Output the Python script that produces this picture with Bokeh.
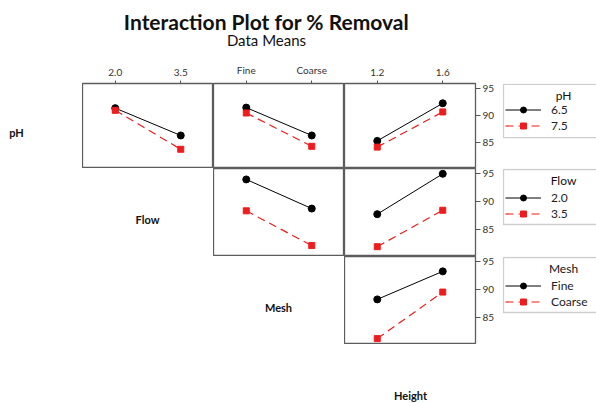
from bokeh.plotting import figure
from bokeh.layouts import column, row
from bokeh.models import (Range1d, FactorRange, FixedTicker, Legend, LegendItem, Label,
                          BoxAnnotation)
from bokeh.embed import file_html
from bokeh.resources import INLINE

FONT = "Lato"

title_text = "Interaction Plot for % Removal"
subtitle_text = "Data Means"

factor_names = ["pH", "Flow", "Mesh", "Height"]
ph_levels = ["6.5", "7.5"]
flow_levels = ["2.0", "3.5"]
mesh_levels = ["Fine", "Coarse"]
height_levels = ["1.2", "1.6"]
y_ticks = [85, 90, 95]

# Data means (first trace level = black solid, second = red dashed)
ph65_by_flow = [91.4, 86.35]
ph75_by_flow = [91.0, 83.8]
ph65_by_mesh = [91.5, 86.35]
ph75_by_mesh = [90.5, 84.35]
ph65_by_height = [85.35, 92.3]
ph75_by_height = [84.2, 90.7]
flow20_by_mesh = [94.0, 88.8]
flow35_by_mesh = [88.4, 82.2]
flow20_by_height = [87.8, 95.0]
flow35_by_height = [82.0, 88.5]
fine_by_height = [88.3, 93.3]
coarse_by_height = [81.3, 89.6]

NAN = float("nan")
PW, PH = 131, 88
LABW = 82
TOPB, RIGHTB = 20, 27
TITLEH = 60
LEGW = 94
Y_LO, Y_HI = 80.25, 95.95
OUTLINE = "#5c5c5c"
RED = "#ee1c1c"


def blank(w, h, top=0):
    p = figure(width=w, height=h, x_range=Range1d(0, w), y_range=Range1d(0, h - top),
               output_backend="svg", toolbar_location=None,
               x_axis_location=None, y_axis_location=None,
               min_border_left=0, min_border_right=0, min_border_top=top, min_border_bottom=0)
    p.grid.grid_line_color = None
    p.outline_line_color = None
    return p


def add_label(p, x, y, text, size="11px", style="bold", baseline="middle", font=FONT):
    p.add_layout(Label(x=x, y=y, text=text, text_font=font, text_font_size=size,
                       text_font_style=style, text_align="center", text_baseline=baseline,
                       text_color="#111111"))


def panel(x_levels, first_vals, second_vals, top=False, right=False):
    w = PW + (RIGHTB if right else 0)
    h = PH + (TOPB if top else 0)
    p = figure(width=w, height=h, x_range=FactorRange(factors=x_levels),
               y_range=Range1d(Y_LO, Y_HI), output_backend="svg", toolbar_location=None,
               x_axis_location="above" if top else None,
               y_axis_location="right" if right else None,
               min_border_left=0, min_border_right=RIGHTB if right else 0,
               min_border_top=TOPB if top else 0, min_border_bottom=0)
    p.grid.grid_line_color = None
    p.outline_line_color = OUTLINE
    p.outline_line_width = 1.3
    for ax in p.axis:
        ax.axis_line_color = None
        ax.major_tick_in = 0
        ax.minor_tick_out = 0
        ax.minor_tick_in = 0
        ax.major_tick_line_color = "#555555"
        ax.major_label_text_font = FONT
        ax.major_label_text_font_size = "10px"
        ax.major_label_text_color = "#333333"
    if top:
        p.xaxis.major_tick_out = 3
        p.xaxis.major_label_standoff = 5
    if right:
        p.yaxis.ticker = FixedTicker(ticks=y_ticks)
        p.yaxis.major_tick_out = 5
        p.yaxis.major_label_standoff = 2
    p.line(x=x_levels, y=first_vals, line_color="black", line_width=1)
    p.scatter(x=x_levels, y=first_vals, marker="circle", size=7, color="black")
    p.line(x=x_levels, y=second_vals, line_color=RED, line_width=1.2, line_dash="8 5")
    p.scatter(x=x_levels, y=second_vals, marker="square", size=6, color=RED)
    return p


def legend_fig(title, labels, top=0):
    p = figure(width=LEGW, height=PH + top, x_range=Range1d(0, LEGW), y_range=Range1d(0, PH),
               output_backend="svg", toolbar_location=None,
               x_axis_location=None, y_axis_location=None,
               min_border_left=0, min_border_right=0, min_border_top=top,
               min_border_bottom=0)
    p.grid.grid_line_color = None
    p.outline_line_color = None
    p.add_layout(BoxAnnotation(left=1, right=LEGW + 10, top=87, bottom=32,
                               fill_alpha=0, line_color=OUTLINE, line_width=1.3))
    l1 = p.line(x=[NAN], y=[NAN], line_color="black", line_width=1)
    s1 = p.scatter(x=[NAN], y=[NAN], marker="circle", size=7, color="black")
    l2 = p.line(x=[NAN], y=[NAN], line_color=RED, line_width=1.2, line_dash="8 5")
    s2 = p.scatter(x=[NAN], y=[NAN], marker="square", size=6, color=RED)
    leg = Legend(items=[LegendItem(label=labels[0], renderers=[l1, s1]),
                        LegendItem(label=labels[1], renderers=[l2, s2])],
                 location=(3, 35), padding=3, margin=0, spacing=1,
                 glyph_width=36, glyph_height=15, label_height=15, label_standoff=10,
                 label_text_font=FONT, label_text_font_size="12px",
                 label_text_color="#222222",
                 border_line_color=None, background_fill_alpha=0)
    p.add_layout(leg)
    add_label(p, 61, 76, title, size="12px", style="normal")
    return p


# Title area
title_fig = blank(596, TITLEH)
add_label(title_fig, 266, 39, title_text, size="21px", style="bold", baseline="alphabetic")
add_label(title_fig, 266, 21, subtitle_text, size="15px", style="normal", baseline="alphabetic")

# Row 1 (pH traces)
ph_lab = blank(LABW, PH + TOPB, top=TOPB)
add_label(ph_lab, 16, 37, factor_names[0])
p11 = panel(flow_levels, ph65_by_flow, ph75_by_flow, top=True)
p12 = panel(mesh_levels, ph65_by_mesh, ph75_by_mesh, top=True)
p13 = panel(height_levels, ph65_by_height, ph75_by_height, top=True, right=True)
leg1 = legend_fig(factor_names[0], ph_levels, top=TOPB)

# Row 2 (Flow traces)
flow_lab = blank(LABW + PW, PH)
add_label(flow_lab, 147, 37, factor_names[1])
p22 = panel(mesh_levels, flow20_by_mesh, flow35_by_mesh)
p23 = panel(height_levels, flow20_by_height, flow35_by_height, right=True)
leg2 = legend_fig(factor_names[1], flow_levels)

# Row 3 (Mesh traces)
mesh_lab = blank(LABW + 2 * PW, PH)
add_label(mesh_lab, 278, 37, factor_names[2])
p33 = panel(height_levels, fine_by_height, coarse_by_height, right=True)
leg3 = legend_fig(factor_names[2], mesh_levels)

# Row 4 (Height label)
height_lab = blank(596, 58)
add_label(height_lab, 410, 7, factor_names[3])

layout = column(title_fig,
                row(ph_lab, p11, p12, p13, leg1),
                row(flow_lab, p22, p23, leg2),
                row(mesh_lab, p33, leg3),
                height_lab)

open("out.html", "w").write(file_html(layout, INLINE))
